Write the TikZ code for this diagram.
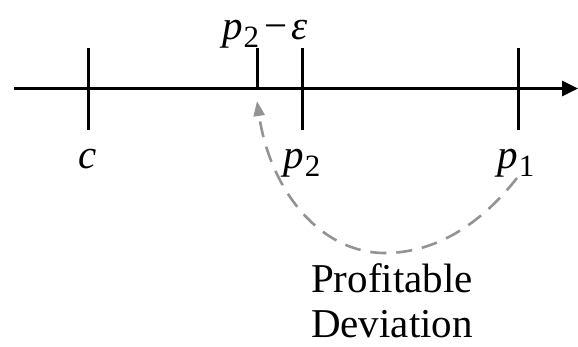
\documentclass[tikz,border=0pt]{standalone}
\usepackage{fontspec}
\setmainfont{Liberation Serif}
\usetikzlibrary{arrows.meta}
\newcommand\psub[1]{\textit{p}\kern0.5pt\raisebox{-0.2em}{\fontsize{31}{31}\selectfont #1}}
\tikzset{
  axisline/.style={line width=3pt, -{Triangle[length=16pt,width=15pt]}},
  tick/.style={line width=3pt},
  lbl/.style={anchor=base, inner sep=0pt, font=\fontsize{41}{45}\selectfont},
  devarrow/.style={draw=gray!85, line width=2.6pt, dash pattern=on 16pt off 10pt,
     -{Triangle[length=15pt,width=11pt]}}
}
\begin{document}
\begin{tikzpicture}[x=1pt,y=-1pt]
\useasboundingbox (0,0) rectangle (578,346);
\coordinate (a0) at (14,88.5);
\coordinate (a1) at (578,88.5);
\draw[axisline] (a0) -- (a1);
% ticks
\coordinate (ct) at (88,48); \coordinate (cb) at (88,130);
\coordinate (et) at (257,48); \coordinate (eb) at (257,88.5);
\coordinate (qt) at (302,48); \coordinate (qb) at (302,130);
\coordinate (pt) at (518,48); \coordinate (pb) at (518,130);
\draw[tick] (ct) -- (cb);
\draw[tick] (et) -- (eb);
\draw[tick] (qt) -- (qb);
\draw[tick] (pt) -- (pb);
% labels
\node[lbl] (lc) at (88,168) {\textit{c}};
\node[lbl] (lp2) at (302,168) {\psub{2}};
\node[lbl] (lp1) at (516,168) {\psub{1}};
\node[lbl] (le) at (265,39) {\psub{2}\kern5pt−\kern4pt\textit{ε}};
\node[lbl, align=center] (dev) at (392,337) {Profitable\\Deviation};
% deviation arrow
\coordinate (s) at (517,178);
\coordinate (m) at (385,253);
\coordinate (e) at (257,101);
\draw[devarrow] (s) .. controls (480,225) and (435,253) .. (m)
  .. controls (320,253) and (270,190) .. (e);
\end{tikzpicture}
\end{document}
